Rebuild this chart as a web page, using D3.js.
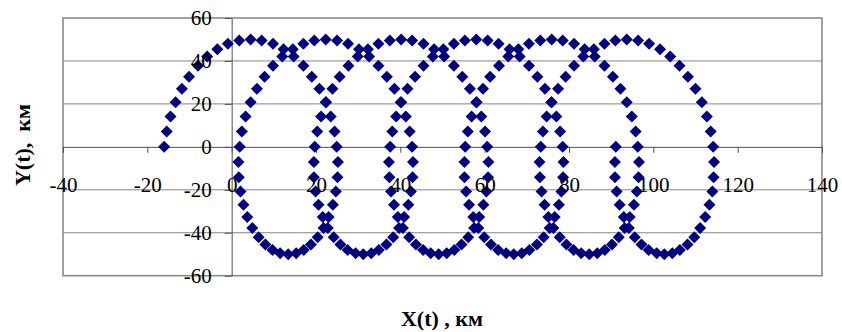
<!DOCTYPE html>
<html>
<head>
<meta charset="utf-8">
<script src="https://cdn.jsdelivr.net/npm/d3@7"></script>
<style>
  html, body { margin: 0; padding: 0; background: #ffffff; }
  svg { display: block; }
</style>
</head>
<body>
<svg id="chart" width="842" height="332"></svg>
<script>
// Axis ticks and their labels
const xTicks = [-40, -20, 0, 20, 40, 60, 80, 100, 120, 140];
const xTickLabels = ["-40", "-20", "0", "20", "40", "60", "80", "100", "120", "140"];
const yTicks = [-60, -40, -20, 0, 20, 40, 60];
const yTickLabels = ["-60", "-40", "-20", "0", "20", "40", "60"];

const xTitle = "X(t) , км";
const yTitle = "Y(t),  км";

// Trajectory samples: X(t), km (one row per loop)
const xKm = [
  -16.0, -15.4, -14.5, -13.3, -11.8, -10.1, -8.0, -5.8, -3.4, -0.9, 1.8, 4.5, 7.1, 9.8, 12.3, 14.7, 17.0, 19.0, 20.8, 22.3, 23.5, 24.4, 24.9, 25.2, 25.1, 24.7, 24.0, 23.0, 21.8, 20.4, 18.8, 17.1, 15.3, 13.4, 11.5, 9.7, 8.0, 6.4, 4.9, 3.7, 2.8, 2.1, 1.7, 1.6,
  1.9, 2.4, 3.3, 4.5, 6.0, 7.8, 9.8, 12.0, 14.5, 17.0, 19.6, 22.3, 25.0, 27.6, 30.2, 32.6, 34.8, 36.8, 38.6, 40.1, 41.3, 42.2, 42.8, 43.0, 42.9, 42.5, 41.9, 40.9, 39.7, 38.3, 36.7, 34.9, 33.1, 31.2, 29.4, 27.5, 25.8, 24.2, 22.8, 21.6, 20.6, 19.9, 19.5, 19.5,
  19.7, 20.3, 21.2, 22.4, 23.9, 25.6, 27.7, 29.9, 32.3, 34.8, 37.5, 40.2, 42.8, 45.5, 48.0, 50.4, 52.7, 54.7, 56.5, 58.0, 59.2, 60.1, 60.6, 60.9, 60.8, 60.4, 59.7, 58.7, 57.5, 56.1, 54.5, 52.8, 51.0, 49.1, 47.2, 45.4, 43.7, 42.1, 40.6, 39.4, 38.5, 37.8, 37.4, 37.3,
  37.6, 38.1, 39.0, 40.2, 41.7, 43.5, 45.5, 47.7, 50.2, 52.7, 55.3, 58.0, 60.7, 63.3, 65.9, 68.3, 70.5, 72.5, 74.3, 75.8, 77.0, 77.9, 78.5, 78.7, 78.6, 78.2, 77.6, 76.6, 75.4, 74.0, 72.4, 70.6, 68.8, 66.9, 65.1, 63.2, 61.5, 59.9, 58.5, 57.3, 56.3, 55.6, 55.2, 55.2,
  55.4, 56.0, 56.9, 58.1, 59.6, 61.3, 63.4, 65.6, 68.0, 70.5, 73.2, 75.9, 78.5, 81.2, 83.7, 86.1, 88.4, 90.4, 92.2, 93.7, 94.9, 95.8, 96.3, 96.6, 96.5, 96.1, 95.4, 94.4, 93.2, 91.8, 90.2, 88.5, 86.7, 84.8, 82.9, 81.1, 79.4, 77.8, 76.3, 75.1, 74.2, 73.5, 73.1, 73.0,
  73.3, 73.8, 74.7, 75.9, 77.4, 79.2, 81.2, 83.4, 85.9, 88.4, 91.0, 93.7, 96.4, 99.0, 101.6, 104.0, 106.2, 108.2, 110.0, 111.5, 112.7, 113.6, 114.2, 114.4, 114.3, 114.0, 113.3, 112.3, 111.1, 109.7, 108.1, 106.3, 104.5, 102.6, 100.8, 98.9, 97.2, 95.6, 94.2, 93.0, 92.0, 91.3, 90.9, 90.9,
  91.1
];

// Trajectory samples: Y(t), km
const yKm = [
  0, 7.1, 14.1, 20.8, 27.0, 32.7, 37.8, 42.1, 45.5, 48.0, 49.5, 50.0, 49.5, 48.0, 45.5, 42.1, 37.8, 32.7, 27.0, 20.8, 14.1, 7.1, 0, -7.1, -14.1, -20.8, -27.0, -32.7, -37.8, -42.1, -45.5, -48.0, -49.5, -50.0, -49.5, -48.0, -45.5, -42.1, -37.8, -32.7, -27.0, -20.8, -14.1, -7.1,
  0, 7.1, 14.1, 20.8, 27.0, 32.7, 37.8, 42.1, 45.5, 48.0, 49.5, 50.0, 49.5, 48.0, 45.5, 42.1, 37.8, 32.7, 27.0, 20.8, 14.1, 7.1, 0, -7.1, -14.1, -20.8, -27.0, -32.7, -37.8, -42.1, -45.5, -48.0, -49.5, -50.0, -49.5, -48.0, -45.5, -42.1, -37.8, -32.7, -27.0, -20.8, -14.1, -7.1,
  0, 7.1, 14.1, 20.8, 27.0, 32.7, 37.8, 42.1, 45.5, 48.0, 49.5, 50.0, 49.5, 48.0, 45.5, 42.1, 37.8, 32.7, 27.0, 20.8, 14.1, 7.1, 0, -7.1, -14.1, -20.8, -27.0, -32.7, -37.8, -42.1, -45.5, -48.0, -49.5, -50.0, -49.5, -48.0, -45.5, -42.1, -37.8, -32.7, -27.0, -20.8, -14.1, -7.1,
  0, 7.1, 14.1, 20.8, 27.0, 32.7, 37.8, 42.1, 45.5, 48.0, 49.5, 50.0, 49.5, 48.0, 45.5, 42.1, 37.8, 32.7, 27.0, 20.8, 14.1, 7.1, 0, -7.1, -14.1, -20.8, -27.0, -32.7, -37.8, -42.1, -45.5, -48.0, -49.5, -50.0, -49.5, -48.0, -45.5, -42.1, -37.8, -32.7, -27.0, -20.8, -14.1, -7.1,
  0, 7.1, 14.1, 20.8, 27.0, 32.7, 37.8, 42.1, 45.5, 48.0, 49.5, 50.0, 49.5, 48.0, 45.5, 42.1, 37.8, 32.7, 27.0, 20.8, 14.1, 7.1, 0, -7.1, -14.1, -20.8, -27.0, -32.7, -37.8, -42.1, -45.5, -48.0, -49.5, -50.0, -49.5, -48.0, -45.5, -42.1, -37.8, -32.7, -27.0, -20.8, -14.1, -7.1,
  0, 7.1, 14.1, 20.8, 27.0, 32.7, 37.8, 42.1, 45.5, 48.0, 49.5, 50.0, 49.5, 48.0, 45.5, 42.1, 37.8, 32.7, 27.0, 20.8, 14.1, 7.1, 0, -7.1, -14.1, -20.8, -27.0, -32.7, -37.8, -42.1, -45.5, -48.0, -49.5, -50.0, -49.5, -48.0, -45.5, -42.1, -37.8, -32.7, -27.0, -20.8, -14.1, -7.1,
  0
];

const svg = d3.select("#chart");
const plot = { left: 63, top: 18, right: 822, bottom: 275.7 };
const serif = "'Liberation Serif', 'Times New Roman', serif";

const x = d3.scaleLinear().domain([-40, 140]).range([plot.left, plot.right]);
const y = d3.scaleLinear().domain([-60, 60]).range([plot.bottom, plot.top]);

// Plot area frame
svg.append("rect")
  .attr("x", plot.left).attr("y", plot.top)
  .attr("width", plot.right - plot.left).attr("height", plot.bottom - plot.top)
  .attr("fill", "#ffffff").attr("stroke", "#8a8a8a").attr("stroke-width", 1.6);

// Horizontal gridlines
svg.append("g").selectAll("line")
  .data(yTicks.filter(v => v !== 0 && v !== 60 && v !== -60))
  .join("line")
  .attr("x1", plot.left).attr("x2", plot.right)
  .attr("y1", d => y(d)).attr("y2", d => y(d))
  .attr("stroke", "#858585").attr("stroke-width", 1);

// Axis lines and tick marks (crossing at the origin)
const gxLines = svg.append("g")
  .attr("transform", `translate(0,${y(0)})`)
  .call(d3.axisBottom(x).tickValues(xTicks).tickSize(6).tickSizeOuter(0).tickFormat(""));
const gyLines = svg.append("g")
  .attr("transform", `translate(${x(0)},0)`)
  .call(d3.axisLeft(y).tickValues(yTicks).tickSize(7).tickSizeOuter(0).tickFormat(""));
[gxLines, gyLines].forEach(g => {
  g.select(".domain").attr("stroke", "#505050").attr("stroke-width", 1);
  g.selectAll(".tick line").attr("stroke", "#505050").attr("stroke-width", 1);
});

// Diamond markers
const diamond = {
  draw(ctx, size) {
    const r = Math.sqrt(size / 2);
    ctx.moveTo(0, -r);
    ctx.lineTo(r, 0);
    ctx.lineTo(0, r);
    ctx.lineTo(-r, 0);
    ctx.closePath();
  }
};
svg.append("g").selectAll("path")
  .data(d3.range(xKm.length))
  .join("path")
  .attr("transform", i => `translate(${x(xKm[i])},${y(yKm[i])})`)
  .attr("d", d3.symbol(diamond, 72))
  .attr("fill", "#000080");

// Tick labels, drawn above the markers
const gxText = svg.append("g")
  .attr("transform", `translate(0,${y(0)})`)
  .call(d3.axisBottom(x).tickValues(xTicks).tickSize(6).tickPadding(24).tickSizeOuter(0)
    .tickFormat((d, i) => xTickLabels[i]));
const gyText = svg.append("g")
  .attr("transform", `translate(${x(0)},0)`)
  .call(d3.axisLeft(y).tickValues(yTicks).tickSize(7).tickPadding(13).tickSizeOuter(0)
    .tickFormat((d, i) => yTickLabels[i]));
[gxText, gyText].forEach(g => {
  g.select(".domain").remove();
  g.selectAll(".tick line").remove();
  g.selectAll("text")
    .attr("fill", "#000000")
    .style("font-family", serif)
    .style("font-size", "21px");
});

// Axis titles
svg.append("text")
  .attr("x", 442).attr("y", 326)
  .attr("text-anchor", "middle")
  .style("font-family", serif).style("font-size", "22px").style("font-weight", "bold")
  .style("white-space", "pre")
  .text(xTitle);
svg.append("text")
  .attr("transform", "translate(30,145) rotate(-90)")
  .attr("text-anchor", "middle")
  .style("font-family", serif).style("font-size", "22px").style("font-weight", "bold")
  .style("white-space", "pre")
  .text(yTitle);
</script>
</body>
</html>
